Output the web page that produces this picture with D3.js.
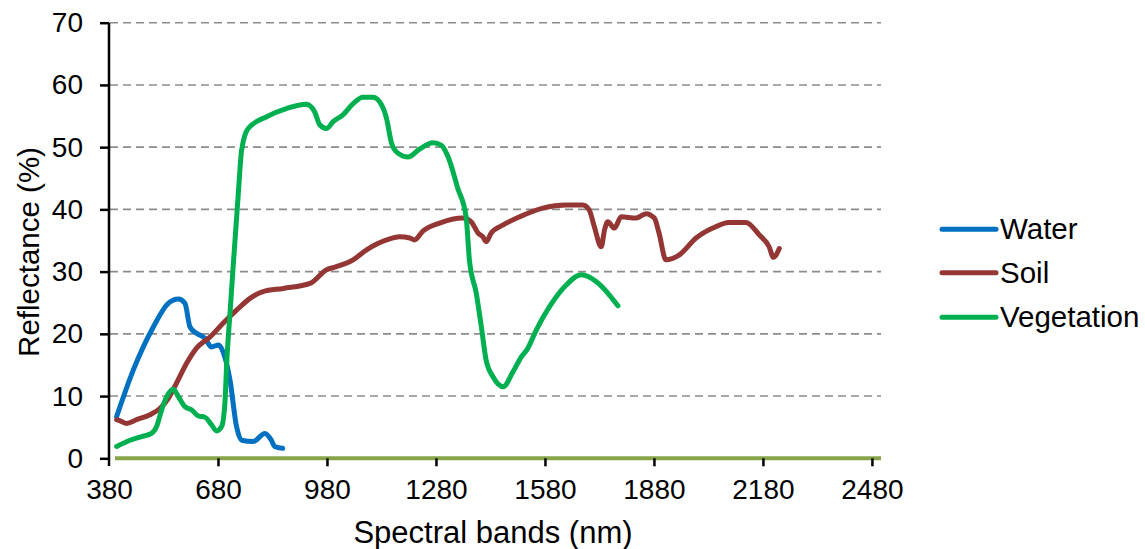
<!DOCTYPE html>
<html><head><meta charset="utf-8">
<script src="https://cdn.jsdelivr.net/npm/d3@7"></script>
<style>body{margin:0;background:#fff}svg{display:block;font-family:Arial,"Liberation Sans",sans-serif}</style>
</head><body>
<svg id="c" width="1145" height="549"></svg>
<script>
const xTicks = [380, 680, 980, 1280, 1580, 1880, 2180, 2480];
const yTicks = [0, 10, 20, 30, 40, 50, 60, 70];
const seriesNames = ["Water", "Soil", "Vegetation"];
const seriesColors = ["#0070C0", "#943634", "#00B050"];

const waterNm = [401,447,502,543,571,589,603,621,644,662,681,694,713,731,745,777,809,827,836,858];
const waterVal = [6.7,14.2,21.1,24.9,25.6,24.9,21.1,20.1,19.3,17.9,18.2,17.1,12.6,5.1,2.9,2.7,4.0,2.9,1.9,1.6];

const soilNm = [401,415,428,456,493,520,543,566,594,621,658,694,731,768,804,860,933,979,1006,1052,1089,1144,1180,1208,1221,1244,1290,1354,1377,1396,1409,1418,1432,1465,1510,1574,1638,1684,1702,1716,1735,1744,1753,1771,1790,1831,1858,1881,1894,1913,1950,1996,2042,2087,2133,2170,2197,2209,2225];
const soilVal = [6.2,5.9,5.6,6.2,7.0,8.0,9.6,12.1,15.3,17.7,19.5,21.7,23.8,25.7,26.8,27.3,28.1,30.3,30.8,31.9,33.5,35.1,35.6,35.4,35.1,36.5,37.8,38.6,38.0,36.2,35.6,34.8,36.2,37.5,38.8,40.2,40.7,40.7,39.9,37.2,34.0,36.7,38.0,37.0,38.8,38.6,39.3,38.6,36.2,31.9,32.7,35.4,37.0,37.9,37.9,35.9,34.0,32.3,33.7];

const vegNm = [401,438,470,497,511,525,539,557,571,589,607,626,644,662,676,690,699,704,713,722,736,745,763,814,868,923,946,960,979,997,1024,1052,1079,1107,1130,1144,1158,1176,1203,1235,1272,1295,1313,1340,1363,1372,1391,1405,1418,1437,1465,1492,1515,1533,1556,1593,1638,1680,1721,1758,1781];
const vegVal = [1.9,2.9,3.5,4.0,5.1,7.8,9.9,11.1,9.9,8.3,7.8,6.8,6.6,5.4,4.4,5.1,8.8,15.3,23.3,31.0,42.6,49.5,53.0,54.9,56.2,56.9,55.7,53.6,53.0,54.1,55.2,57.0,58.0,58.0,56.8,54.6,50.6,49.0,48.4,49.7,50.7,50.3,48.5,43.4,38.8,31.9,26.5,21.1,15.8,13.1,11.5,13.9,16.3,17.7,20.6,24.4,27.8,29.5,28.4,26.2,24.5];

const seriesNm = [waterNm, soilNm, vegNm];
const seriesVal = [waterVal, soilVal, vegVal];

const svg = d3.select("#c");
const x = d3.scaleLinear().domain([380, 2505]).range([109, 881]);
const y = d3.scaleLinear().domain([0, 70]).range([458.3, 22.7]);
const FONT = "Arial, 'Liberation Sans', sans-serif";

// gridlines
svg.append("g").selectAll("line").data(yTicks.filter(d => d > 0)).join("line")
  .attr("x1", 110).attr("x2", x(2505)).attr("y1", d => y(d)).attr("y2", d => y(d))
  .attr("stroke", "#8c8c8c").attr("stroke-width", 1.6).attr("stroke-dasharray", "8,5");

// baseline (olive)
svg.append("line").attr("x1", 115).attr("x2", x(2505)).attr("y1", y(0)).attr("y2", y(0))
  .attr("stroke", "#88A44A").attr("stroke-width", 4);

// y axis
const yAxis = svg.append("g").attr("transform", "translate(109,0)")
  .call(d3.axisLeft(y).tickValues(yTicks).tickSize(9).tickPadding(17).tickFormat(d3.format("d")));
yAxis.select(".domain").attr("stroke", "#000").attr("stroke-width", 2.5).attr("d", "M0," + y(70) + "V466");
yAxis.selectAll(".tick line").attr("stroke", "#000").attr("stroke-width", 2.5);
yAxis.selectAll("text").attr("font-size", 28).attr("fill", "#000").attr("font-family", FONT);

// x axis
const xAxis = svg.append("g").attr("transform", "translate(0," + y(0) + ")")
  .call(d3.axisBottom(x).tickValues(xTicks).tickSize(8).tickPadding(13).tickFormat(d3.format("d")));
xAxis.select(".domain").remove();
xAxis.selectAll(".tick line").attr("stroke", "#000").attr("stroke-width", 2.5);
xAxis.selectAll(".tick").filter(d => d === 380).select("line").remove();
xAxis.selectAll("text").attr("font-size", 28).attr("fill", "#000").attr("font-family", FONT);

// series
const line = d3.line().x(d => x(d[0])).y(d => y(d[1])).curve(d3.curveMonotoneX);
seriesNames.forEach((name, i) => {
  const pts = seriesNm[i].map((v, j) => [v, seriesVal[i][j]]);
  svg.append("path").datum(pts).attr("d", line).attr("fill", "none")
    .attr("stroke", seriesColors[i]).attr("stroke-width", 5)
    .attr("stroke-linejoin", "round").attr("stroke-linecap", "round");
});

// axis titles
svg.append("text").attr("x", 493).attr("y", 543).attr("text-anchor", "middle")
  .attr("font-size", 31).attr("fill", "#000").text("Spectral bands (nm)");
svg.append("text").attr("transform", "translate(39,252) rotate(-90)").attr("text-anchor", "middle")
  .attr("font-size", 29.5).attr("fill", "#000").text("Reflectance (%)");

// legend
const legendY = [229.3, 272.7, 317.3];
const lg = svg.append("g");
seriesNames.forEach((name, i) => {
  lg.append("line").attr("x1", 942).attr("x2", 996).attr("y1", legendY[i]).attr("y2", legendY[i])
    .attr("stroke", seriesColors[i]).attr("stroke-width", 5).attr("stroke-linecap", "round");
  lg.append("text").attr("x", 1000).attr("y", legendY[i] + 10).attr("font-size", 29.5)
    .attr("fill", "#000").text(name);
});
</script>
</body></html>
